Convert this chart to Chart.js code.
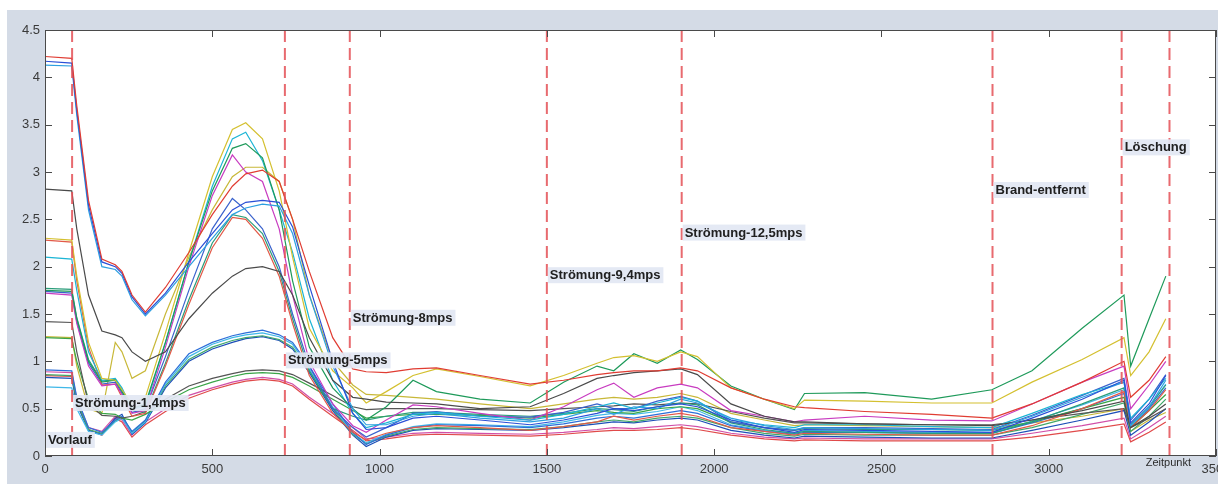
<!DOCTYPE html>
<html>
<head>
<meta charset="utf-8">
<script src="https://cdn.jsdelivr.net/npm/chart.js@4.4.1/dist/chart.umd.min.js"></script>
<style>
  html, body { margin: 0; padding: 0; background: #ffffff; }
  #wrap { position: relative; width: 1218px; height: 484px; }
  canvas { display: block; }
</style>
</head>
<body>
<div id="wrap"><canvas id="c" width="1218" height="484"></canvas></div>
<script>
// Sample times (x) shared by all measurement series
const zeitpunkt = [0, 80, 95, 130, 170, 210, 230, 260, 300, 360, 430, 500, 560, 600, 650, 700, 740, 790, 860, 920,
  960, 1020, 1100, 1170, 1300, 1450, 1550, 1650, 1700, 1760, 1830, 1900, 1950, 2050, 2150, 2240, 2270, 2450, 2650, 2830,
  2950, 3100, 3225, 3245, 3300, 3350];

// Measurement series (one value per sample time)
const reihe01 = [4.22, 4.2, 3.7, 2.7, 2.08, 2.02, 1.95, 1.7, 1.52, 1.78, 2.15, 2.55, 2.85, 2.98, 3.02, 2.9, 2.5, 1.95, 1.25, 0.92,
  0.89, 0.88, 0.92, 0.93, 0.85, 0.76, 0.8, 0.86, 0.88, 0.9, 0.9, 0.93, 0.9, 0.72, 0.6, 0.52, 0.51, 0.47, 0.44, 0.4,
  0.55, 0.78, 1.0, 0.62, 0.8, 1.05];
const reihe02 = [4.17, 4.15, 3.65, 2.65, 2.05, 2.0, 1.93, 1.68, 1.5, 1.72, 2.05, 2.35, 2.6, 2.68, 2.7, 2.68, 2.42, 1.8, 1.0, 0.45,
  0.28, 0.3, 0.4, 0.42, 0.38, 0.33, 0.38, 0.45, 0.5, 0.48, 0.52, 0.55, 0.52, 0.38, 0.3, 0.25, 0.28, 0.27, 0.26, 0.25,
  0.4, 0.6, 0.8, 0.35, 0.55, 0.85];
const reihe03 = [4.13, 4.12, 3.6, 2.6, 2.0, 1.97, 1.9, 1.65, 1.48, 1.7, 2.0, 2.3, 2.55, 2.62, 2.66, 2.64, 2.35, 1.7, 0.95, 0.5,
  0.33, 0.33, 0.42, 0.45, 0.4, 0.36, 0.4, 0.5, 0.44, 0.52, 0.5, 0.6, 0.56, 0.4, 0.32, 0.28, 0.3, 0.29, 0.28, 0.27,
  0.42, 0.62, 0.78, 0.32, 0.52, 0.8];
const reihe04 = [2.82, 2.8, 2.4, 1.7, 1.32, 1.28, 1.25, 1.1, 1.0, 1.1, 1.45, 1.72, 1.9, 1.98, 2.0, 1.95, 1.7, 1.25, 0.8, 0.62,
  0.6, 0.57, 0.56, 0.55, 0.5, 0.52, 0.66, 0.82, 0.85, 0.88, 0.9, 0.92, 0.86, 0.55, 0.42, 0.36, 0.36, 0.34, 0.33, 0.32,
  0.38, 0.48, 0.58, 0.3, 0.42, 0.55];
const reihe05 = [2.3, 2.28, 1.9, 1.2, 0.82, 0.8, 0.7, 0.55, 0.62, 1.3, 2.15, 2.95, 3.45, 3.52, 3.35, 2.8, 2.1, 1.35, 0.9, 0.72,
  0.56, 0.68, 0.85, 0.92, 0.84, 0.74, 0.85, 0.98, 1.04, 1.06, 1.0, 1.1, 1.05, 0.72, 0.6, 0.5, 0.59, 0.58, 0.56, 0.56,
  0.78, 1.02, 1.25, 0.85, 1.1, 1.45];
const reihe06 = [1.75, 1.74, 1.45, 1.0, 0.78, 0.8, 0.68, 0.5, 0.55, 1.2, 2.05, 2.8, 3.25, 3.3, 3.15, 2.6, 1.85, 1.15, 0.72, 0.5,
  0.38, 0.52, 0.8, 0.68, 0.6, 0.56, 0.78, 0.95, 0.9, 1.08, 0.98, 1.12, 1.02, 0.74, 0.6, 0.49, 0.66, 0.67, 0.6, 0.7,
  0.9, 1.35, 1.7, 0.95, 1.45, 1.9];
const reihe07 = [2.1, 2.08, 1.75, 1.1, 0.8, 0.82, 0.72, 0.5, 0.52, 1.2, 2.05, 2.85, 3.35, 3.42, 3.12, 2.6, 2.15, 1.45, 0.8, 0.45,
  0.3, 0.35, 0.44, 0.46, 0.42, 0.38, 0.44, 0.52, 0.56, 0.5, 0.56, 0.62, 0.58, 0.38, 0.33, 0.3, 0.33, 0.33, 0.31, 0.3,
  0.45, 0.65, 0.78, 0.4, 0.6, 0.82];
const reihe08 = [1.72, 1.7, 1.4, 0.95, 0.74, 0.76, 0.65, 0.45, 0.48, 1.15, 2.0, 2.75, 3.18, 3.0, 2.9, 2.4, 1.7, 1.0, 0.55, 0.32,
  0.25, 0.38, 0.54, 0.52, 0.45, 0.38, 0.52, 0.7, 0.77, 0.62, 0.72, 0.76, 0.72, 0.48, 0.42, 0.36, 0.38, 0.42, 0.38, 0.37,
  0.55, 0.78, 0.95, 0.5, 0.75, 1.0];
const reihe09 = [2.28, 2.26, 1.85, 1.15, 0.75, 0.76, 0.62, 0.42, 0.45, 0.95, 1.6, 2.2, 2.52, 2.5, 2.3, 1.9, 1.4, 0.85, 0.45, 0.25,
  0.17, 0.24, 0.3, 0.32, 0.3, 0.27, 0.31, 0.36, 0.42, 0.38, 0.42, 0.45, 0.42, 0.3, 0.26, 0.22, 0.24, 0.23, 0.22, 0.22,
  0.32, 0.5, 0.68, 0.3, 0.48, 0.7];
const reihe10 = [1.74, 1.72, 1.42, 0.98, 0.76, 0.78, 0.66, 0.46, 0.5, 1.05, 1.75, 2.4, 2.72, 2.6, 2.4, 2.0, 1.5, 0.95, 0.5, 0.3,
  0.2, 0.3, 0.45, 0.47, 0.42, 0.41, 0.46, 0.55, 0.5, 0.5, 0.58, 0.63, 0.58, 0.36, 0.3, 0.27, 0.3, 0.3, 0.29, 0.28,
  0.43, 0.64, 0.82, 0.38, 0.6, 0.86];
const reihe11 = [1.77, 1.76, 1.46, 1.02, 0.79, 0.81, 0.7, 0.48, 0.46, 0.98, 1.65, 2.25, 2.55, 2.52, 2.35, 1.95, 1.45, 0.9, 0.5, 0.42,
  0.38, 0.42, 0.46, 0.46, 0.44, 0.42, 0.45, 0.5, 0.49, 0.47, 0.52, 0.56, 0.54, 0.35, 0.28, 0.24, 0.26, 0.25, 0.24, 0.24,
  0.36, 0.55, 0.72, 0.33, 0.52, 0.75];
const reihe12 = [1.42, 1.41, 1.1, 0.55, 0.43, 0.42, 0.4, 0.42, 0.47, 0.6, 0.74, 0.82, 0.87, 0.9, 0.91, 0.9, 0.86, 0.77, 0.64, 0.52,
  0.49, 0.5, 0.5, 0.5, 0.49, 0.48, 0.5, 0.52, 0.53, 0.55, 0.54, 0.56, 0.55, 0.47, 0.4, 0.35, 0.35, 0.34, 0.33, 0.33,
  0.38, 0.45, 0.5, 0.3, 0.4, 0.5];
const reihe13 = [1.25, 1.24, 1.0, 0.6, 0.45, 0.44, 0.4, 0.38, 0.44, 0.57, 0.7, 0.78, 0.84, 0.87, 0.88, 0.87, 0.83, 0.74, 0.6, 0.48,
  0.4, 0.42, 0.44, 0.44, 0.43, 0.4, 0.44, 0.48, 0.46, 0.45, 0.5, 0.52, 0.5, 0.36, 0.3, 0.27, 0.29, 0.28, 0.28, 0.27,
  0.36, 0.5, 0.62, 0.3, 0.48, 0.65];
const reihe14 = [0.91, 0.9, 0.62, 0.3, 0.25, 0.38, 0.42, 0.26, 0.38, 0.78, 1.08, 1.2, 1.27, 1.3, 1.33, 1.28, 1.2, 0.95, 0.55, 0.25,
  0.12, 0.22, 0.3, 0.33, 0.32, 0.3, 0.34, 0.4, 0.42, 0.4, 0.44, 0.48, 0.45, 0.32, 0.26, 0.23, 0.25, 0.25, 0.24, 0.24,
  0.35, 0.5, 0.66, 0.3, 0.5, 0.72];
const reihe15 = [0.73, 0.72, 0.5, 0.26, 0.22, 0.36, 0.4, 0.24, 0.36, 0.76, 1.05, 1.18, 1.25, 1.28, 1.3, 1.26, 1.18, 0.92, 0.52, 0.24,
  0.14, 0.23, 0.31, 0.34, 0.33, 0.31, 0.36, 0.43, 0.45, 0.44, 0.47, 0.52, 0.48, 0.33, 0.27, 0.24, 0.27, 0.26, 0.25, 0.25,
  0.37, 0.54, 0.7, 0.32, 0.52, 0.76];
const reihe16 = [0.86, 0.85, 0.58, 0.28, 0.24, 0.37, 0.41, 0.25, 0.37, 0.74, 1.02, 1.15, 1.22, 1.25, 1.27, 1.23, 1.15, 0.9, 0.5, 0.23,
  0.13, 0.21, 0.28, 0.3, 0.29, 0.28, 0.31, 0.36, 0.38, 0.36, 0.4, 0.42, 0.4, 0.3, 0.24, 0.21, 0.23, 0.22, 0.22, 0.22,
  0.3, 0.44, 0.56, 0.26, 0.42, 0.6];
const reihe17 = [0.83, 0.82, 0.55, 0.27, 0.23, 0.4, 0.44, 0.23, 0.35, 0.72, 1.0, 1.13, 1.2, 1.24, 1.26, 1.22, 1.13, 0.88, 0.48, 0.22,
  0.1, 0.2, 0.27, 0.29, 0.28, 0.27, 0.3, 0.34, 0.36, 0.35, 0.38, 0.4, 0.38, 0.27, 0.22, 0.19, 0.21, 0.2, 0.19, 0.19,
  0.27, 0.38, 0.48, 0.22, 0.36, 0.5];
const reihe18 = [0.89, 0.88, 0.6, 0.3, 0.26, 0.42, 0.38, 0.22, 0.36, 0.5, 0.64, 0.72, 0.78, 0.81, 0.83, 0.81, 0.76, 0.62, 0.45, 0.3,
  0.18, 0.2, 0.24, 0.25, 0.24, 0.23, 0.25, 0.28, 0.3, 0.29, 0.31, 0.33, 0.31, 0.24, 0.2, 0.18, 0.19, 0.18, 0.18, 0.18,
  0.24, 0.32, 0.4, 0.18, 0.3, 0.42];
const reihe19 = [0.85, 0.84, 0.56, 0.28, 0.22, 0.4, 0.36, 0.2, 0.33, 0.47, 0.61, 0.7, 0.76, 0.79, 0.81, 0.79, 0.74, 0.6, 0.42, 0.27,
  0.16, 0.18, 0.22, 0.23, 0.22, 0.21, 0.23, 0.26, 0.27, 0.27, 0.28, 0.3, 0.28, 0.22, 0.18, 0.16, 0.17, 0.16, 0.16, 0.16,
  0.2, 0.27, 0.34, 0.15, 0.25, 0.36];
const reihe20 = [1.26, 1.25, 0.95, 0.5, 0.45, 1.2, 1.1, 0.82, 0.9, 1.5, 2.1, 2.6, 2.95, 3.05, 3.05, 2.9, 2.5, 1.7, 1.0, 0.75,
  0.65, 0.64, 0.62, 0.6, 0.55, 0.5, 0.55, 0.6, 0.62, 0.6, 0.62, 0.66, 0.62, 0.45, 0.38, 0.32, 0.33, 0.32, 0.31, 0.3,
  0.35, 0.42, 0.5, 0.26, 0.38, 0.46];

const reihen = [reihe01, reihe02, reihe03, reihe04, reihe05, reihe06, reihe07, reihe08, reihe09, reihe10,
  reihe11, reihe12, reihe13, reihe14, reihe15, reihe16, reihe17, reihe18, reihe19, reihe20];
const farben = ['#e03c32', '#2a4fd6', '#2c9fe0', '#4a4a4a', '#d4c030', '#1e9a5a', '#1cb5d5', '#c83cc0', '#e25a48', '#3a62cc',
  '#2a9d7a', '#555555', '#3aa548', '#2d6fd8', '#40b8e8', '#43a86a', '#1d4fb8', '#d04fa8', '#e04a4a', '#c8b838'];

// Phase boundaries and their labels
const phasenStart = [0, 81, 717, 911, 1500, 1903, 2832, 3218];
const phasenName = ['Vorlauf', 'Strömung-1,4mps', 'Strömung-5mps', 'Strömung-8mps', 'Strömung-9,4mps',
  'Strömung-12,5mps', 'Brand-entfernt', 'Löschung'];
const phasenLabelY = [0.17, 0.56, 1.01, 1.46, 1.91, 2.36, 2.81, 3.26];
const messEnde = 3361;

// Axis ticks
const xTicks = [0, 500, 1000, 1500, 2000, 2500, 3000, 3500];
const yTicks = [0, 0.5, 1, 1.5, 2, 2.5, 3, 3.5, 4, 4.5];

const datasets = [];
reihen.forEach((werte, i) => {
  datasets.push({
    data: werte.map((v, k) => ({ x: zeitpunkt[k], y: v })),
    borderColor: farben[i],
    borderWidth: 1.2,
    pointRadius: 0,
    tension: 0,
    fill: false
  });
});

// Red dashed phase boundaries, drawn above the data
const grenzen = phasenStart.concat([messEnde]);
const markerStyle = { borderColor: 'rgba(228,80,86,0.85)', borderWidth: 2, borderDash: [12, 6], pointRadius: 0, order: -1, fill: false };
grenzen.forEach(g => {
  datasets.push(Object.assign({ data: [{ x: g, y: 0 }, { x: g, y: 4.5 }] }, markerStyle));
});
datasets.push(Object.assign({ data: [{ x: 0, y: 0 }, { x: messEnde, y: 0 }] }, markerStyle));

const hintergrund = {
  id: 'hintergrund',
  beforeDraw(chart) {
    const ctx = chart.ctx, a = chart.chartArea;
    ctx.save();
    ctx.fillStyle = '#ffffff';
    ctx.fillRect(0, 0, chart.width, chart.height);
    ctx.fillStyle = '#d4dbe6';
    ctx.fillRect(7, 10, chart.width - 7, chart.height - 10);
    ctx.fillStyle = '#ffffff';
    ctx.fillRect(a.left, a.top, a.right - a.left, a.bottom - a.top);
    ctx.restore();
  }
};

const rahmen = {
  id: 'rahmen',
  afterDatasetsDraw(chart) {
    const ctx = chart.ctx, a = chart.chartArea;
    const xs = chart.scales.x, ys = chart.scales.y;
    ctx.save();
    ctx.strokeStyle = '#4a4a4a';
    ctx.lineWidth = 1;
    ctx.strokeRect(a.left + 0.5, a.top + 0.5, a.right - a.left - 1, a.bottom - a.top - 1);
    ctx.beginPath();
    xTicks.forEach(t => {
      const px = Math.round(xs.getPixelForValue(t)) + 0.5;
      ctx.moveTo(px, a.bottom); ctx.lineTo(px, a.bottom - 7);
      ctx.moveTo(px, a.top); ctx.lineTo(px, a.top + 7);
    });
    yTicks.forEach(t => {
      const py = Math.round(ys.getPixelForValue(t)) + 0.5;
      ctx.moveTo(a.left, py); ctx.lineTo(a.left + 7, py);
      ctx.moveTo(a.right, py); ctx.lineTo(a.right - 7, py);
    });
    ctx.stroke();

    // phase labels
    ctx.font = 'bold 13px "Liberation Sans", Arial, sans-serif';
    ctx.textBaseline = 'middle';
    phasenName.forEach((name, i) => {
      const px = xs.getPixelForValue(phasenStart[i]);
      const py = ys.getPixelForValue(phasenLabelY[i]);
      const w = ctx.measureText(name).width;
      ctx.fillStyle = 'rgba(226,231,243,0.92)';
      ctx.fillRect(px + 1, py - 8, w + 5, 16);
      ctx.fillStyle = '#202020';
      ctx.fillText(name, px + 3, py + 0.5);
    });

    // x axis title
    ctx.font = '11px "Liberation Sans", Arial, sans-serif';
    ctx.fillStyle = '#2a2a2a';
    ctx.textBaseline = 'middle';
    ctx.fillText('Zeitpunkt', xs.getPixelForValue(3290), a.bottom + 7);
    ctx.restore();
  }
};

new Chart(document.getElementById('c'), {
  type: 'line',
  data: { datasets },
  options: {
    responsive: false,
    animation: false,
    events: [],
    layout: { autoPadding: false, padding: { top: 30, right: 2, left: 0, bottom: 0 } },
    plugins: { legend: { display: false }, tooltip: { enabled: false } },
    scales: {
      x: {
        type: 'linear', min: 0, max: 3500,
        afterBuildTicks(scale) { scale.ticks = xTicks.map(v => ({ value: v })); },
        afterFit(scale) { scale.height = 28; scale.paddingLeft = 0; scale.paddingRight = 0; },
        grid: { display: false, drawTicks: false },
        border: { display: false },
        ticks: {
          padding: 6, maxRotation: 0, autoSkip: false,
          color: '#3a3a3a',
          font: { family: '"Liberation Sans", Arial, sans-serif', size: 13 },
          callback: v => String(v)
        }
      },
      y: {
        type: 'linear', min: 0, max: 4.5,
        afterBuildTicks(scale) { scale.ticks = yTicks.map(v => ({ value: v })); },
        afterFit(scale) { scale.width = 45; scale.paddingTop = 0; scale.paddingBottom = 0; },
        grid: { display: false, drawTicks: false },
        border: { display: false },
        ticks: {
          padding: 5,
          color: '#3a3a3a',
          font: { family: '"Liberation Sans", Arial, sans-serif', size: 13 },
          callback: v => String(v)
        }
      }
    }
  },
  plugins: [hintergrund, rahmen]
});
</script>
</body>
</html>
